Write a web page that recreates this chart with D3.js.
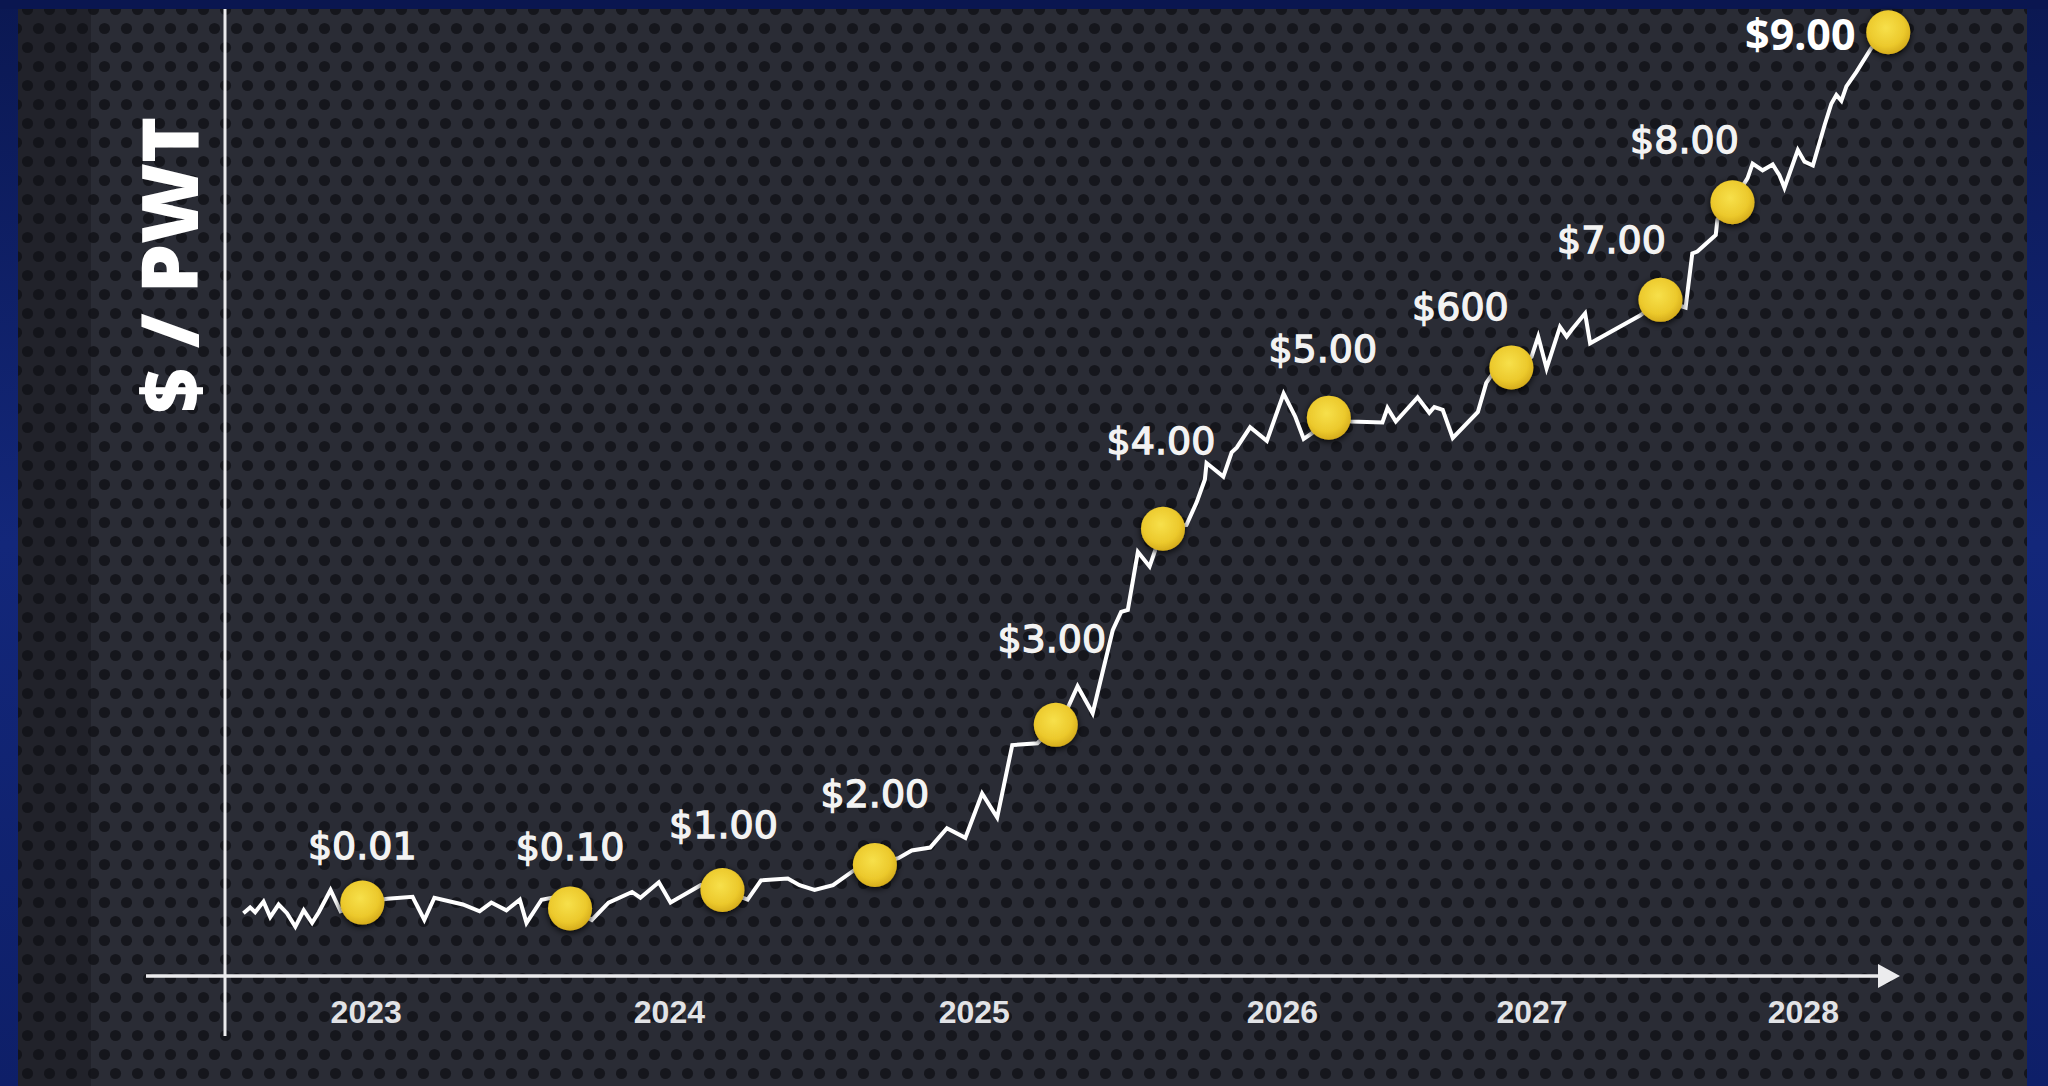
<!DOCTYPE html>
<html><head>
<meta charset="utf-8">
<script src="https://d3js.org/d3.v7.min.js"></script>
<style>
  html, body { margin:0; padding:0; background:#0c1a5a; overflow:hidden; }
  svg { display:block; }
  .year text { fill:#e2e3e6; font-family:"Liberation Sans", Arial, sans-serif; font-weight:bold; font-size:32px; }
  .ms-label { fill:#f3f3f3; font-family:"DejaVu Sans", sans-serif; font-size:38px; stroke:#f3f3f3; stroke-width:1.3px; }
  .ms-label.last { font-family:"Noto Sans", sans-serif; font-weight:bold; font-size:43px; stroke:none; fill:#ffffff; }
  .axis-title { fill:#ffffff; font-family:"Open Sans", "DejaVu Sans", sans-serif; font-weight:800; font-size:78px; }
</style>
</head><body>
<svg id="chart" width="2048" height="1086"></svg>
<script>

// x runs 0..100 from the y axis to the arrow tip, level runs 0..100 from the x axis to the top
const yearLabels = ["2023", "2024", "2025", "2026", "2027", "2028"];
const yearT      = [8.4, 26.5, 44.7, 63.1, 78.0, 94.2];

const pathT = [1.1, 1.5, 1.8, 2.3, 2.7, 3.2, 3.7, 4.2, 4.7, 5.2, 5.6, 6.3, 6.9,
  8.2, 9.7, 11.2, 11.9, 12.5, 14.2, 15.2, 15.9, 16.8, 17.6, 18.0, 18.9, 19.5,
  20.6, 21.9, 22.9, 24.3, 24.8, 25.9, 26.6, 27.2, 28.4,
  29.7, 31.2, 32.0, 33.6, 34.3, 35.2, 36.3, 37.6,
  38.8, 40.2, 41.0, 42.1, 43.1, 44.2, 45.2, 46.1, 47.0, 48.5,
  49.6, 50.3, 50.9, 51.8, 53.0, 53.5, 53.9, 54.5, 55.2, 55.5,
  56.0, 57.4, 58.0, 58.5, 58.6, 59.6, 60.1, 60.4, 61.2, 62.2, 63.2, 63.9, 64.4, 64.9,
  65.9, 67.2, 69.1, 69.4, 69.9, 71.2, 71.9, 72.2, 72.7, 73.3, 74.8, 75.3, 75.7,
  76.8, 78.0, 78.4, 78.9, 79.7, 80.1, 80.4, 81.2, 81.5, 84.5,
  85.7, 87.2, 87.6, 87.9, 89.0, 89.1,
  90.0, 90.9, 91.2, 91.8, 92.4, 92.8, 93.1, 93.9, 94.3, 94.8, 95.5, 95.9, 96.2, 96.5, 96.8, 97.4, 98.3,
  99.3];
const pathLevel = [6.5, 7.1, 6.6, 7.7, 6.1, 7.4, 6.5, 5.1, 6.8, 5.5, 6.6, 8.9, 6.7,
  7.6, 8.0, 8.2, 5.8, 8.1, 7.4, 6.7, 7.6, 6.8, 7.9, 5.5, 7.9, 8.1,
  7.0, 5.8, 7.6, 8.7, 8.1, 9.7, 7.6, 8.2, 9.4,
  8.9, 7.9, 9.9, 10.1, 9.4, 8.9, 9.4, 11.0,
  11.5, 12.2, 13.0, 13.3, 15.3, 14.3, 18.9, 16.4, 23.9, 24.1,
  26.0, 27.7, 30.0, 27.2, 35.8, 37.7, 37.9, 43.9, 42.4, 43.9,
  46.3, 46.7, 49.0, 51.4, 53.1, 51.7, 54.2, 54.7, 56.8, 55.4, 60.3, 57.9, 55.6, 56.2,
  57.8, 57.4, 57.3, 58.8, 57.4, 59.9, 58.3, 58.9, 58.6, 55.7, 58.4, 61.4, 62.4,
  63.0, 64.1, 66.2, 62.9, 67.2, 66.2, 66.9, 68.6, 65.5, 68.4,
  70.0, 69.2, 74.8, 75.0, 76.7, 78.3,
  80.1, 82.6, 84.1, 83.4, 84.0, 82.9, 81.6, 85.5, 84.3, 83.9, 88.1, 90.3, 91.2, 90.6, 92.1, 93.6, 96.1,
  97.7];

const milestoneLabels = ["$0.01", "$0.10", "$1.00", "$2.00", "$3.00", "$4.00", "$5.00", "$600", "$7.00", "$8.00", "$9.00"];
const milestoneT      = [8.2, 20.6, 29.7, 38.8, 49.6, 56.0, 65.9, 76.8, 85.7, 90.0, 99.3];
const milestoneLevel  = [7.6, 7.0, 8.9, 11.5, 26.0, 46.3, 57.8, 63.0, 70.0, 80.1, 97.7];

const svg = d3.select("#chart");
const W = +svg.attr("width"), H = +svg.attr("height");
const margin = {left: 225, right: 148, top: 10, bottom: 110};

const x = d3.scaleLinear().domain([0, 100]).range([margin.left, W - margin.right]);
const y = d3.scaleLinear().domain([0, 100]).range([H - margin.bottom, margin.top]);

// ---- defs
const defs = svg.append("defs");
const pat = defs.append("pattern").attr("id", "dots")
  .attr("patternUnits", "userSpaceOnUse").attr("width", 22).attr("height", 38);
pat.append("rect").attr("width", 22).attr("height", 38).attr("fill", "#2a2c35");
pat.append("circle").attr("cx", 5.5).attr("cy", 9.5).attr("r", 5.6).attr("fill", "#15161c");
pat.append("circle").attr("cx", 16.5).attr("cy", 28.5).attr("r", 5.6).attr("fill", "#15161c");

const navy = defs.append("linearGradient").attr("id", "navy").attr("x1", 0).attr("y1", 0).attr("x2", 0).attr("y2", 1);
navy.append("stop").attr("offset", "0%").attr("stop-color", "#0b1852");
navy.append("stop").attr("offset", "50%").attr("stop-color", "#13277a");
navy.append("stop").attr("offset", "100%").attr("stop-color", "#0e1f68");

const coin = defs.append("radialGradient").attr("id", "coin").attr("cx", "45%").attr("cy", "40%").attr("r", "60%");
coin.append("stop").attr("offset", "0%").attr("stop-color", "#f7e04a");
coin.append("stop").attr("offset", "70%").attr("stop-color", "#ecc92c");
coin.append("stop").attr("offset", "100%").attr("stop-color", "#d6ad1c");

const shadow = defs.append("filter").attr("id", "shadow").attr("x", "-50%").attr("y", "-50%").attr("width", "200%").attr("height", "200%");
shadow.append("feDropShadow").attr("dx", 0).attr("dy", 2).attr("stdDeviation", 3.5)
  .attr("flood-color", "#000").attr("flood-opacity", 0.9);

// ---- background
svg.append("rect").attr("width", W).attr("height", H).attr("fill", "url(#navy)");
svg.append("rect").attr("x", 18).attr("y", 9).attr("width", 2009).attr("height", H - 9).attr("fill", "url(#dots)");
svg.append("rect").attr("x", 18).attr("y", 9).attr("width", 73).attr("height", H - 9).attr("fill", "#101116").attr("opacity", 0.35);
svg.append("rect").attr("x", 0).attr("y", 0).attr("width", W).attr("height", 9).attr("fill", "#0a1650");

// ---- axes
const axisColor = "#ececee";
svg.append("line")
  .attr("x1", x(0)).attr("x2", x(0)).attr("y1", 9).attr("y2", y(0) + 60)
  .attr("stroke", axisColor).attr("stroke-width", 3);
svg.append("line")
  .attr("x1", x(0) - 79).attr("x2", x(100) - 16).attr("y1", y(0)).attr("y2", y(0))
  .attr("stroke", axisColor).attr("stroke-width", 3.5);
svg.append("path")
  .attr("d", `M${x(100)},${y(0)} L${x(100) - 22},${y(0) - 12} L${x(100) - 22},${y(0) + 12} Z`)
  .attr("fill", axisColor);

const xAxis = d3.axisBottom(x).tickValues(yearT).tickSize(0).tickPadding(24)
  .tickFormat((d, i) => yearLabels[i]);
svg.append("g").attr("class", "year")
  .attr("transform", `translate(0,${y(0)})`)
  .call(xAxis)
  .call(g => g.select(".domain").remove());

svg.append("text").attr("class", "axis-title")
  .attr("transform", `translate(${x(0) - 27},265) rotate(-90)`)
  .attr("text-anchor", "middle")
  .text("$ / PWT");

// ---- price path
const line = d3.line().x(d => x(d[0])).y(d => y(d[1]));
svg.append("path")
  .datum(pathT.map((t, i) => [t, pathLevel[i]]))
  .attr("fill", "none").attr("stroke", "#ffffff").attr("stroke-width", 4)
  .attr("stroke-linejoin", "miter").attr("stroke-miterlimit", 6)
  .attr("d", line);

// ---- milestones
const milestones = milestoneLabels.map((lab, i) => ({label: lab, t: milestoneT[i], v: milestoneLevel[i]}));
svg.append("g").selectAll("circle").data(milestones).join("circle")
  .attr("cx", d => x(d.t)).attr("cy", d => y(d.v)).attr("r", 22)
  .attr("fill", "url(#coin)").attr("filter", "url(#shadow)");

// label offsets from their coin
const nudge = [[0, -57], [0, -61], [1, -65], [0, -71], [-4, -86], [-2, -88], [-6, -69], [-51, -60], [-49, -60], [-48, -62], [-88, 1]];
svg.append("g").selectAll("text").data(milestones).join("text")
  .attr("class", (d, i) => i === milestones.length - 1 ? "ms-label last" : "ms-label")
  .attr("x", (d, i) => x(d.t) + nudge[i][0])
  .attr("y", (d, i) => y(d.v) + nudge[i][1])
  .attr("text-anchor", "middle")
  .attr("dominant-baseline", "central")
  .text(d => d.label);

</script>
</body></html>
